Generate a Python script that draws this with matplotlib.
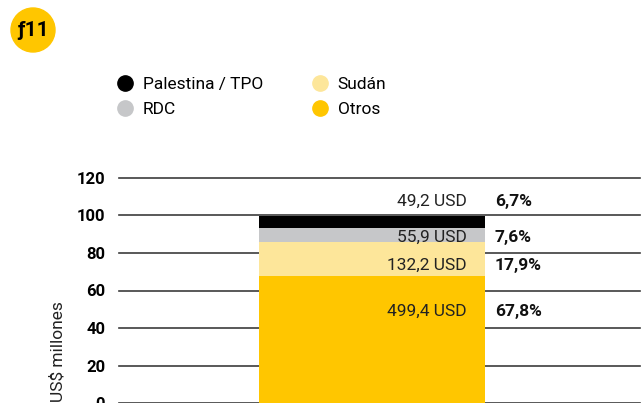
import matplotlib.pyplot as plt
from matplotlib.lines import Line2D
from matplotlib.patches import Ellipse

plt.rcParams['font.family'] = ['Roboto', 'DejaVu Sans']

# Datos
categorias = ["Otros", "Sudán", "RDC", "Palestina / TPO"]
porcentajes = [67.8, 17.9, 7.6, 6.7]
valores_usd = ["499,4 USD", "132,2 USD", "55,9 USD", "49,2 USD"]
etiquetas_pct = ["67,8%", "17,9%", "7,6%", "6,7%"]
colores = ["#FFC600", "#FDE69A", "#C6C7C9", "#000000"]
yticks = [0, 20, 40, 60, 80, 100, 120]

# posiciones de las etiquetas (en unidades del eje)
etiqueta_y = [49, 73.5, 88.5, 107.5]

fig = plt.figure(figsize=(6.44, 4.03), dpi=100)
ax = fig.add_axes([119 / 644, 0, 521 / 644, 225 / 403])
ax.set_xlim(0, 1)
ax.set_ylim(0, 120)

for y in yticks:
    ax.axhline(y, color="#3c3c3c", lw=1.2, zorder=1, clip_on=False)

base = 0
for cat, p, c in zip(categorias, porcentajes, colores):
    ax.bar(0.4856, p, bottom=base, width=226 / 521, color=c, zorder=2)
    base += p

for y, v, pct in zip(etiqueta_y, valores_usd, etiquetas_pct):
    ax.text(0.667, y, v, ha="right", va="center", fontsize=12.5, color="#222222", zorder=3)
    ax.text(0.721, y, pct, ha="left", va="center", fontsize=12.5, fontweight="bold", color="#111111", zorder=3)

ax.set_yticks(yticks)
ax.set_yticklabels([str(t) for t in yticks], fontsize=12, fontweight="bold")
ax.tick_params(axis="y", length=0, pad=10)
ax.set_xticks([])
for s in ax.spines.values():
    s.set_visible(False)

fig.text(58 / 644, 1 - 352 / 403, "US$ millones", rotation=90, ha="center", va="center", fontsize=12.5, color="#222222")

# Leyenda
orden = [3, 2, 1, 0]
handles = [Line2D([], [], marker="o", linestyle="none", markersize=11,
                  markerfacecolor=colores[i], markeredgecolor=colores[i]) for i in orden]
fig.legend(handles, [categorias[i] for i in orden], ncol=2, frameon=False,
           loc="upper left", bbox_to_anchor=(101 / 644, 1 - 61 / 403),
           fontsize=12.5, handletextpad=0.5, columnspacing=2.8, labelspacing=0.6,
           handlelength=1.0)

# Distintivo f11
fig.add_artist(Ellipse((33 / 644, 1 - 30 / 403), 44 / 644, 44 / 403,
                       transform=fig.transFigure, color="#FFC600"))
fig.text(33 / 644, 1 - 31 / 403, "ƒ11", ha="center", va="center", fontsize=15, fontweight="bold")

fig.savefig("out.png", dpi=100)
